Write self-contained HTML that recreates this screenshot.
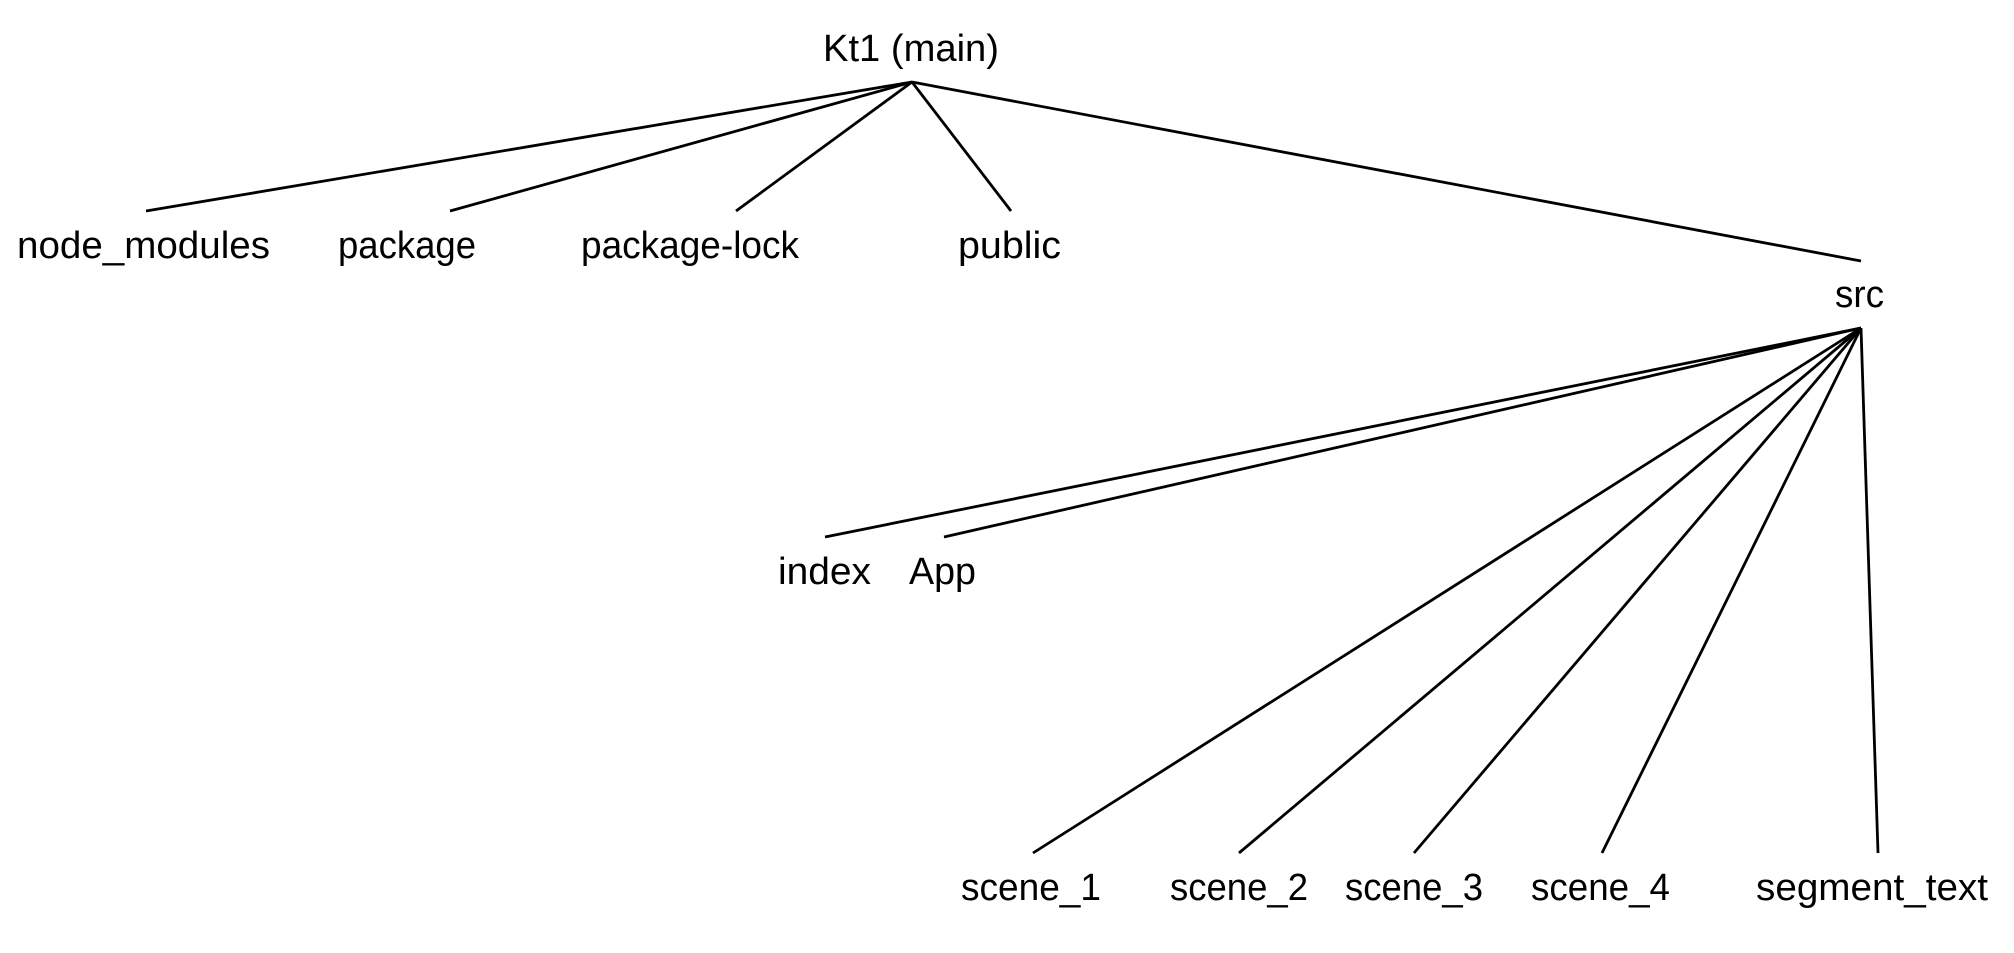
<!DOCTYPE html>
<html><head><meta charset="utf-8"><style>html,body{margin:0;padding:0;background:#fff}svg{display:block}</style></head>
<body>
<svg width="2014" height="953" viewBox="0 0 2014 953" xmlns="http://www.w3.org/2000/svg">
<g stroke="#000" stroke-width="2.8" stroke-linecap="butt">
<line x1="912" y1="82" x2="146" y2="211"/>
<line x1="912" y1="82" x2="450" y2="211"/>
<line x1="912" y1="82" x2="736" y2="211"/>
<line x1="912" y1="82" x2="1011" y2="211"/>
<line x1="912" y1="82" x2="1861" y2="261"/>
<line x1="1861" y1="328" x2="825" y2="537"/>
<line x1="1861" y1="328" x2="944" y2="537"/>
<line x1="1861" y1="328" x2="1033" y2="853"/>
<line x1="1861" y1="328" x2="1239" y2="853"/>
<line x1="1861" y1="328" x2="1414" y2="853"/>
<line x1="1861" y1="328" x2="1602" y2="853"/>
<line x1="1861" y1="328" x2="1878" y2="853"/>
</g>
<g font-family="Liberation Sans, sans-serif" font-size="38" fill="#000">
<text x="823" y="61" textLength="176" lengthAdjust="spacingAndGlyphs">Kt1 (main)</text>
<text x="17" y="258" textLength="253" lengthAdjust="spacingAndGlyphs">node_modules</text>
<text x="338" y="258" textLength="138" lengthAdjust="spacingAndGlyphs">package</text>
<text x="581" y="258" textLength="218" lengthAdjust="spacingAndGlyphs">package-lock</text>
<text x="958" y="258" textLength="103" lengthAdjust="spacingAndGlyphs">public</text>
<text x="1835" y="307" textLength="49" lengthAdjust="spacingAndGlyphs">src</text>
<text x="778" y="584" textLength="93" lengthAdjust="spacingAndGlyphs">index</text>
<text x="909" y="584" textLength="67" lengthAdjust="spacingAndGlyphs">App</text>
<text x="961" y="900" textLength="140" lengthAdjust="spacingAndGlyphs">scene_1</text>
<text x="1170" y="900" textLength="138" lengthAdjust="spacingAndGlyphs">scene_2</text>
<text x="1345" y="900" textLength="138" lengthAdjust="spacingAndGlyphs">scene_3</text>
<text x="1531" y="900" textLength="139" lengthAdjust="spacingAndGlyphs">scene_4</text>
<text x="1756" y="900" textLength="232" lengthAdjust="spacingAndGlyphs">segment_text</text>
</g>
</svg>
</body></html>
